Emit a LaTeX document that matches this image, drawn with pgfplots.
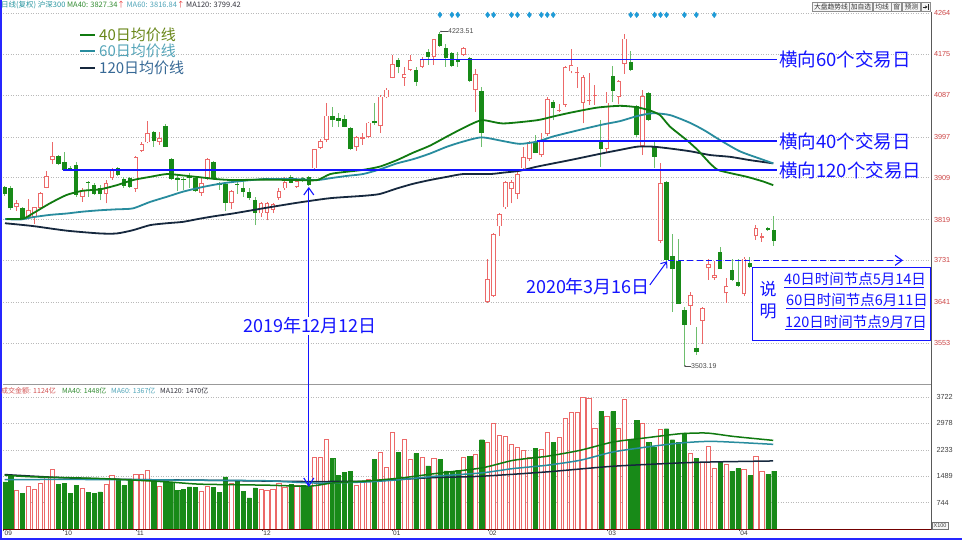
\documentclass[border=0pt]{standalone}
\usepackage{pgfplots}
\pgfplotsset{compat=1.18}
\usepackage{pgfplotstable}
\usepackage{fontspec}
\setmainfont{Liberation Sans}
\newfontfamily\cjk{Noto Sans CJK SC}
\usetikzlibrary{arrows.meta}

\definecolor{cgreen}{RGB}{24,138,24}
\definecolor{cwick}{RGB}{110,190,110}
\definecolor{cpink}{RGB}{236,105,105}
\definecolor{ma40}{RGB}{16,122,16}
\definecolor{ma60}{RGB}{40,140,158}
\definecolor{ma120}{RGB}{22,40,62}
\definecolor{ablue}{RGB}{20,20,255}
\definecolor{gridc}{RGB}{185,185,185}
\definecolor{tickred}{RGB}{205,70,70}
\definecolor{diam}{RGB}{30,155,215}
\definecolor{leg1}{RGB}{105,135,25}
\definecolor{leg2}{RGB}{85,165,185}
\definecolor{leg3}{RGB}{55,105,150}
\definecolor{hdteal}{RGB}{40,150,160}
\definecolor{hdgreen}{RGB}{50,140,50}
\definecolor{hdma60}{RGB}{80,165,185}
\definecolor{hddark}{RGB}{50,50,60}
\definecolor{hdred}{RGB}{230,60,60}
\definecolor{vred}{RGB}{210,80,80}

% up (rising, hollow red) candles: index open high low close volume
\pgfplotstableread{
i O H L C V
2 3847 3861 3837 3854 1095
4 3825 3863 3822 3840 1189
5 3825 3847 3809 3845 1123
6 3843 3879 3840 3877 1282
7 3888 3924 3886 3913 1470
8 3947 3985 3938 3956 1675
13 3868 3886 3857 3883 1142
17 3874 3904 3854 3898 1254
18 3908 3931 3904 3928 1498
22 3885 3956 3879 3954 1526
23 3967 3985 3965 3981 1535
24 3985 4032 3983 4006 1638
26 3987 4008 3980 3994 1189
33 3877 3911 3870 3897 1067
34 3908 3951 3904 3949 1207
38 3854 3883 3841 3880 1282
43 3832 3857 3825 3854 1114
44 3834 3857 3817 3854 1095
45 3840 3855 3832 3852 1114
46 3865 3886 3862 3881 1282
47 3886 3911 3883 3900 1170
49 3890 3904 3888 3901 1235
52 3929 3972 3927 3970 2012
53 3974 3992 3972 3989 2031
54 3990 4069 3987 4043 2518
59 3975 3999 3967 3996 1235
60 3993 4005 3980 3996 1329
61 3996 4030 3994 4028 1395
63 4020 4087 4005 4084 2172
64 4082 4102 4080 4099 1732
65 4125 4173 4123 4155 2714
67 4125 4148 4107 4132 2518
68 4141 4173 4139 4163 1956
70 4148 4170 4145 4165 2012
72 4170 4209 4152 4207 1984
77 4173 4190 4171 4188 2031
79 4098 4143 4051 4133 2097
81 3642 3733 3640 3690 2434
82 3654 3789 3653 3788 2986
83 3804 3834 3783 3831 2640
84 3845 3903 3842 3900 2621
85 3884 3904 3854 3900 2377
86 3875 3922 3863 3918 2293
87 3929 3976 3926 3954 2209
88 3949 3989 3946 3987 2012
90 3958 4005 3954 3989 2237
91 4003 4082 4000 4079 2733
93 4053 4068 4050 4055 2574
94 4066 4150 4061 4148 3108
95 4138 4186 4134 4152 3276
96 4134 4148 4102 4136 3276
97 4071 4130 4026 4127 3716
98 4074 4134 4066 4076 3669
99 4085 4109 4066 4087 2827
101 3972 4094 3965 4071 3182
103 4084 4120 4067 4117 2827
104 4154 4219 4133 4209 3641
107 3977 4097 3958 4085 2967
110 3773 3940 3768 3897 2799
115 3633 3663 3592 3656 2143
117 3601 3631 3551 3628 1872
118 3714 3735 3689 3723 2331
119 3694 3730 3689 3699 1704
121 3660 3692 3640 3676 1816
124 3658 3739 3654 3735 1675
126 3783 3807 3775 3800 2059
127 3780 3789 3771 3784 1629
}\up

% down (falling, filled green) candles
\pgfplotstableread{
i O H L C V
0 3890 3892 3870 3873 1329
1 3886 3891 3840 3843 1516
3 3843 3847 3818 3820 1001
9 3956 3958 3936 3939 1254
10 3942 3965 3924 3926 1282
11 3931 3934 3926 3928 1001
12 3936 3942 3868 3872 1226
14 3900 3901 3868 3898 1039
15 3893 3897 3872 3874 1001
16 3888 3893 3861 3873 1048
19 3931 3933 3913 3915 1376
20 3907 3910 3888 3892 1226
21 3908 3911 3888 3890 1376
25 4008 4010 3976 3988 1376
27 4020 4025 3975 3976 1348
28 3949 3952 3904 3906 1310
29 3909 3915 3881 3905 1095
30 3907 3910 3883 3904 1114
31 3911 3920 3888 3908 1189
32 3908 3911 3879 3880 1170
35 3943 3945 3904 3908 1170
36 3897 3900 3883 3893 1030
37 3895 3900 3837 3855 1470
39 3896 3904 3875 3893 1376
40 3886 3903 3868 3878 1067
41 3879 3886 3861 3865 880
42 3861 3868 3807 3832 1161
48 3911 3915 3897 3898 1254
50 3909 3911 3900 3903 1235
51 3911 3913 3891 3893 1207
55 4041 4061 4019 4033 1984
56 4037 4048 4018 4032 1516
57 4035 4044 4018 4019 1591
58 4017 4019 3969 3970 1629
62 4032 4071 4023 4026 1966
66 4163 4166 4134 4148 2162
69 4141 4148 4107 4116 2125
71 4180 4186 4152 4170 1778
73 4219 4223.5 4191 4193 1966
74 4188 4197 4148 4168 1638
75 4177 4181 4148 4150 1610
76 4164 4181 4148 4159 1657
78 4168 4170 4116 4118 2050
80 4096 4105 3976 4006 2518
89 3987 4001 3962 3963 2284
92 4073 4077 4033 4059 2434
100 3990 4033 3933 3972 3313
102 4128 4150 4073 4096 3313
105 4159 4183 4139 4141 2518
106 4064 4066 3997 4001 3061
108 4092 4094 4032 4033 2452
109 3976 3989 3929 3954 2312
111 3900 3902 3728 3732 2827
112 3741 3788 3620 3712 2518
113 3730 3777 3638 3638 2443
114 3625 3630 3503.2 3592 2714
116 3543 3588 3527 3533 1984
120 3748 3759 3712 3712 1872
122 3710 3735 3687 3689 1629
123 3684 3735 3674 3676 1704
125 3725 3739 3714 3717 1507
128 3800 3802 3795 3796 1544
129 3796 3827 3762 3773 1629
}\dn

\pgfplotsset{
  ebar/.style 2 args={draw=none, mark=none, forget plot,
    error bars/.cd, y dir=plus, y explicit, error mark=none,
    error bar style={line width=#1, draw=#2, solid, line cap=butt}},
}

\begin{document}
\begin{tikzpicture}[x=1pt,y=1pt]
\fill[white] (0,0) rectangle (962,540);
\path[use as bounding box] (0,0) rectangle (962,540);

% ---------------- price panel ----------------
\begin{axis}[
  at={(3pt,157pt)}, anchor=south west, scale only axis,
  width=929pt, height=381pt,
  xmin=-0.285, xmax=155.53, ymin=3466.8, ymax=4287.7,
  axis line style={draw=none},
  xtick=\empty,
  ytick={3553,3641,3731,3819,3909,3997,4087,4175,4264},
  ytick pos=right, yticklabel pos=right,
  ytick style={draw=none},
  scaled ticks=false,
  yticklabel style={font=\fontsize{7.3}{8}\selectfont, text=tickred, anchor=west, xshift=-1.5pt,
    /pgf/number format/fixed, /pgf/number format/precision=0, /pgf/number format/1000 sep={}},
  /pgf/number format/assume math mode=true,
  ymajorgrids, grid style={gridc, line width=0.6pt, dash pattern=on 1pt off 1.5pt},
]
% wicks
\addplot[ebar={1pt}{cpink}] table[x=i, y=L, y error plus expr=\thisrow{H}-\thisrow{L}] {\up};
\addplot[ebar={1pt}{cwick}] table[x=i, y=L, y error plus expr=\thisrow{H}-\thisrow{L}] {\dn};
% bodies
\addplot[ebar={4.4pt}{cgreen}] table[x=i, y=C, y error plus expr={max(\thisrow{O}-\thisrow{C},1.6)}] {\dn};
\addplot[ebar={4.6pt}{cpink}] table[x=i, y=O, y error plus expr={max(\thisrow{C}-\thisrow{O},1.6)}] {\up};
\addplot[ebar={2.8pt}{white}] table[x=i, y expr=\thisrow{O}+2, y error plus expr={max(\thisrow{C}-\thisrow{O}-4,0)}] {\up};

% moving averages
\addplot[ma120, line width=1.8pt, smooth, tension=0.4] coordinates {
(0.05,3811) (4.7,3805) (10.4,3795) (16.0,3789) (18.8,3789) (21.5,3796) (24.4,3807) (27.2,3811)
(29.9,3814) (32.8,3821) (35.6,3827) (38.3,3832) (43.3,3843) (49.0,3855) (54.6,3865) (60.1,3870)
(62.9,3874) (65.8,3886) (68.5,3896) (71.3,3904) (74.2,3911) (76.9,3917) (81.4,3917) (83.6,3920)
(86.4,3924) (89.3,3933) (94.8,3947) (100.4,3962) (103.2,3969) (106.1,3976) (108.7,3976) (111.6,3972)
(115.0,3966) (118.3,3958) (121.7,3954) (125.0,3947) (128.9,3940)};
\addplot[ma60, line width=1.8pt, smooth, tension=0.4] coordinates {
(0.05,3820) (2.6,3819) (4.7,3824) (7.6,3829) (10.4,3832) (13.1,3836) (16.0,3839) (18.8,3841)
(21.5,3843) (24.4,3857) (27.2,3868) (29.9,3879) (32.8,3888) (35.6,3895) (38.3,3900) (43.3,3906)
(49.0,3906) (52.4,3904) (54.6,3908) (57.4,3913) (60.1,3917) (62.9,3927) (65.8,3940) (68.5,3949)
(71.3,3961) (74.2,3976) (76.9,3987) (80.0,3996) (83.6,3988) (86.4,3982) (89.3,3987) (92.0,3998)
(94.8,4007) (97.7,4016) (100.4,4024) (103.2,4031) (106.1,4042) (108.7,4048) (111.6,4044)
(115.0,4027) (117.5,4010) (120.0,3990) (123.3,3966) (126.7,3950) (128.9,3940)};
\addplot[ma40, line width=1.8pt, smooth, tension=0.4] coordinates {
(0.3,3820) (3.1,3821) (4.7,3832) (7.6,3854) (10.4,3872) (13.1,3881) (16.0,3884) (18.8,3893)
(21.5,3904) (24.4,3911) (27.2,3917) (29.9,3914) (32.8,3910) (35.6,3906) (38.3,3904) (43.3,3905)
(49.0,3904) (52.4,3904) (54.6,3917) (57.4,3922) (60.1,3926) (62.9,3933) (65.8,3947) (68.5,3963)
(71.3,3978) (74.2,3998) (76.9,4016) (80.0,4033) (83.6,4026) (89.3,4033) (92.0,4041) (94.8,4049)
(99.3,4060) (103.2,4064) (106.0,4061) (108.2,4054) (109.9,4044) (111.6,4019) (114.4,3990)
(116.2,3969) (118.3,3940) (119.6,3926) (121.7,3919) (124.5,3911) (127.2,3901) (128.9,3893)};

% horizontal reference lines
\addplot[ablue, line width=1.2pt] coordinates {(69.7,4164) (129.5,4164)};
\addplot[ablue, line width=1.2pt] coordinates {(89.2,3988) (129.5,3988)};
\addplot[ablue, line width=1.2pt] coordinates {(9.8,3925.5) (129.5,3925.5)};
% dashed arrow and 3/16 arrow
\addplot[ablue, line width=1.1pt, dash pattern=on 6pt off 3.5pt, -{Straight Barb[length=7pt,width=10pt]}] coordinates {(111.3,3731) (150.67,3731)};
\addplot[ablue, line width=1pt, -{Straight Barb[length=5pt,width=8pt]}] coordinates {(108.2,3678) (111.1,3729)};
% signal diamonds
\addplot[only marks, mark=diamond*, mark size=2.8pt, color=diam] coordinates {
(73,4260) (75,4260) (76,4260) (81,4260) (82,4260) (85,4260) (86,4260) (88,4260) (90,4260) (91,4260)
(92,4260) (105,4260) (106,4260) (109,4260) (110,4260) (111,4260) (114,4260) (116,4260) (119,4260)};
\end{axis}

% ---------------- volume panel ----------------
\begin{axis}[
  at={(3pt,11pt)}, anchor=south west, scale only axis,
  width=929pt, height=145pt,
  xmin=-0.285, xmax=155.53, ymin=0, ymax=4089,
  axis line style={draw=none},
  ytick={744,1489,2233,2978,3722},
  ytick pos=right, yticklabel pos=right, ytick style={draw=none},
  scaled ticks=false,
  yticklabel style={font=\fontsize{7.3}{8}\selectfont, text=black!75, anchor=west, xshift=-1.5pt,
    /pgf/number format/fixed, /pgf/number format/precision=0, /pgf/number format/1000 sep={}},
  /pgf/number format/assume math mode=true,
  xtick={-0.2,9.86,22.0,43.2,64.96,81.07,101.1,123.2},
  xticklabels={09,10,11,12,01,02,03,04},
  xtick pos=left, tick align=outside, major tick length=2.5pt,
  xtick style={draw=black!70, line width=0.6pt},
  xticklabel style={font=\fontsize{6.5}{7}\selectfont, text=black!80, anchor=north west, inner sep=0pt, xshift=1pt, yshift=1pt},
  ymajorgrids, grid style={gridc, line width=0.6pt, dash pattern=on 1pt off 1.5pt},
]
\addplot[ybar, bar width=4.2pt, bar shift=0pt, fill=cgreen, draw=cgreen, line width=0.4pt] table[x=i, y=V] {\dn};
\addplot[ybar, bar width=4.2pt, bar shift=0pt, fill=white, draw=cpink, line width=0.9pt] table[x=i, y=V] {\up};
\addplot[ma120, line width=1.5pt, smooth, tension=0.4] coordinates {
(0,1535) (10.4,1441) (21.6,1395) (32.8,1376) (49.5,1340) (55,1340) (61,1348) (66.3,1400) (72.2,1451)
(80,1488) (90.9,1610) (102.0,1769) (113.3,1863) (118.8,1891) (128.9,1919)};
\addplot[ma60, line width=1.5pt, smooth, tension=0.4] coordinates {
(0,1395) (16.0,1395) (32.8,1376) (43.9,1360) (51.0,1300) (55.1,1300) (61,1329) (66.6,1395) (72.2,1488)
(80,1582) (85.3,1704) (90.9,1797) (96.5,1937) (102.0,2172) (107.7,2312) (113.3,2424) (118.8,2471) (128.9,2387)};
\addplot[ma40, line width=1.5pt, smooth, tension=0.4] coordinates {
(0,1516) (4.8,1470) (16.0,1423) (27.2,1329) (32.8,1264) (43.9,1236) (51.0,1207) (55.1,1300) (61,1357)
(66.6,1441) (72.2,1563) (80,1722) (85.3,1937) (90.9,2050) (96.5,2218) (102.0,2452) (107.7,2574)
(113.3,2686) (117.8,2705) (122.2,2611) (128.9,2499)};
\end{axis}

% ---------------- frame ----------------
\draw[black!40, line width=0.8pt] (3,156) -- (931.5,156);
\draw[red!45!black, line width=0.9pt] (3,10.5) -- (931.5,10.5);
\draw[black!65, line width=0.8pt] (931.5,528) -- (931.5,10);
\fill[blue!85!white] (0,0) rectangle (2,540);
\fill[blue!85!white] (0,0) rectangle (962,1.8);
\draw[black!55, line width=0.5pt, fill=black!3] (932,10.5) rectangle (948,17.5);
\node[font=\fontsize{5.5}{6}\selectfont, text=black!75, inner sep=0] at (940,14) {X100};

% top header
\node[anchor=west, inner sep=0, font=\cjk\fontsize{7.5}{8}\selectfont] at (1,534.5)
 {\textcolor{hdteal}{日线(复权)} \textcolor{hdteal}{沪深300} \textcolor{hdgreen}{MA40: 3827.34}\textcolor{hdred}{↑} \textcolor{hdma60}{MA60: 3816.84}\textcolor{hdred}{↑} \textcolor{hddark}{MA120: 3799.42}};
% buttons
\foreach \a/\b/\t in {812.7/849.3/大盘趋势线, 849.3/872.7/加自选, 873.3/891/均线, 891.7/901.7/窗, 902.7/920/预测} {
  \draw[fill=black!4, draw=black!45, line width=0.5pt] (\a,528.3) rectangle (\b,537.8);
  \node[font=\cjk\fontsize{6.8}{7}\selectfont, text=black!80, inner sep=0] at ({(\a+\b)/2},533) {\t};
}
\draw[fill=black!4, draw=black!45, line width=0.5pt] (921,528.3) rectangle (930.5,537.8);
\draw[black!85, line width=0.9pt, -{Stealth[length=2.5pt,width=3pt]}] (922.5,533) -- (927.5,533);
\draw[black!85, line width=0.9pt] (928.6,530.3) -- (928.6,535.7);

% volume header
\node[anchor=west, inner sep=0, font=\cjk\fontsize{7}{8}\selectfont, text=vred] at (1,149) {成交金额: 1124亿};
\node[anchor=west, inner sep=0, font=\cjk\fontsize{7}{8}\selectfont, text=hdgreen] at (62,149) {MA40: 1448亿};
\node[anchor=west, inner sep=0, font=\cjk\fontsize{7}{8}\selectfont, text=hdma60] at (111,149) {MA60: 1367亿};
\node[anchor=west, inner sep=0, font=\cjk\fontsize{7}{8}\selectfont, text=hddark] at (160,149) {MA120: 1470亿};

% legend
\draw[ma40, line width=2.2pt] (80,505) -- (95,505);
\draw[ma60, line width=2.2pt] (80,489) -- (95,489);
\draw[ma120, line width=2.2pt] (80,472) -- (95,472);
\node[anchor=west, inner sep=0, font=\cjk\fontsize{15}{16}\selectfont, text=leg1] at (99,505.5) {40日均价线};
\node[anchor=west, inner sep=0, font=\cjk\fontsize{15}{16}\selectfont, text=leg2] at (99,489.5) {60日均价线};
\node[anchor=west, inner sep=0, font=\cjk\fontsize{15}{16}\selectfont, text=leg3] at (99,472.5) {120日均价线};

% extreme value labels
\fill[black!70] (441,508.5) circle (0.8);
\draw[black!70, line width=0.6pt] (441,508.5) -- (447.5,508.5);
\node[anchor=west, inner sep=0, font=\fontsize{7}{8}\selectfont, text=black!70] at (448,508.5) {4223.51};
\fill[black!70] (685,174) circle (0.8);
\draw[black!70, line width=0.6pt] (685,174) -- (690.5,174);
\node[anchor=west, inner sep=0, font=\fontsize{7}{8}\selectfont, text=black!70] at (691,174) {3503.19};

% right-side annotations
\node[anchor=west, inner sep=0, font=\cjk\fontsize{18.5}{20}\selectfont, text=ablue] at (779,481) {横向60个交易日};
\node[anchor=west, inner sep=0, font=\cjk\fontsize{18.5}{20}\selectfont, text=ablue] at (779,399) {横向40个交易日};
\node[anchor=west, inner sep=0, font=\cjk\fontsize{18.5}{20}\selectfont, text=ablue] at (779,370) {横向120个交易日};

% 2019-12-12 double arrow
\draw[ablue, line width=1.1pt, {Straight Barb[length=7pt,width=10pt]}-{Straight Barb[length=8pt,width=10pt]}] (308.8,353) -- (308.8,53);
\node[fill=white, inner sep=1pt, font=\cjk\fontsize{18}{20}\selectfont, text=ablue] at (310,214) {2019年12月12日};
\node[inner sep=0, font=\cjk\fontsize{18}{20}\selectfont, text=ablue] at (588,253) {2020年3月16日};

% explanation box
\draw[ablue, line width=1.3pt, fill=white] (752.7,272.7) rectangle (930.7,199.3);
\node[inner sep=0, font=\cjk\fontsize{17}{18}\selectfont, text=ablue] at (768,251) {说};
\node[inner sep=0, font=\cjk\fontsize{17}{18}\selectfont, text=ablue] at (768,229) {明};
\node[anchor=west, inner sep=0, font=\cjk\fontsize{14.5}{15}\selectfont, text=ablue] at (784,261) {40日时间节点5月14日};
\node[anchor=west, inner sep=0, font=\cjk\fontsize{14.5}{15}\selectfont, text=ablue] at (786,239.5) {60日时间节点6月11日};
\node[anchor=west, inner sep=0, font=\cjk\fontsize{14.5}{15}\selectfont, text=ablue] at (785,218) {120日时间节点9月7日};
\draw[ablue, line width=1pt] (784,252.3) -- (924,252.3);
\draw[ablue, line width=1pt] (786,231) -- (925,231);
\draw[ablue, line width=1pt] (785,210) -- (924,210);
\end{tikzpicture}
\end{document}
